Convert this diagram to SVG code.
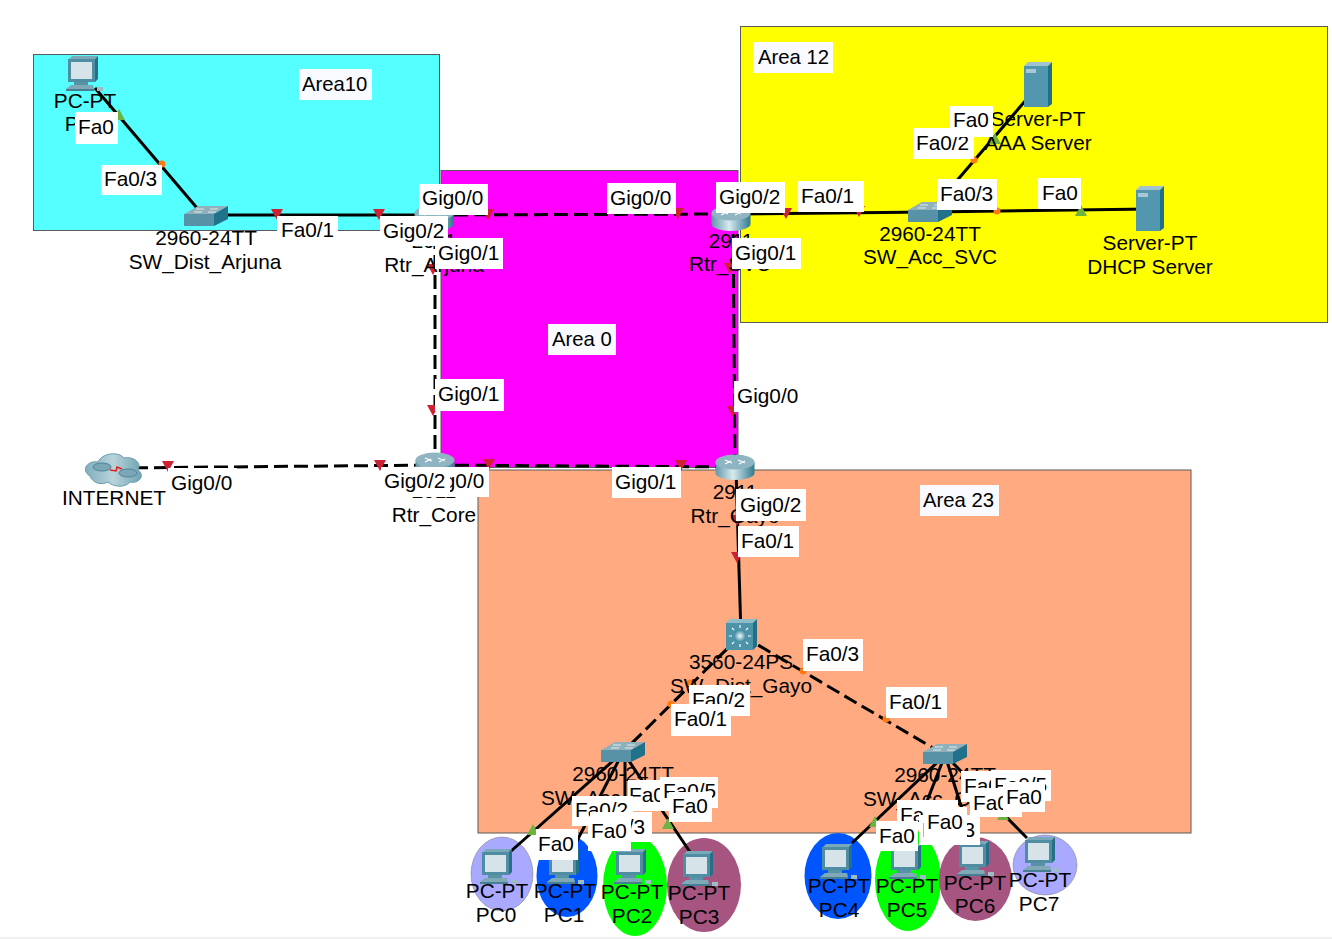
<svg xmlns="http://www.w3.org/2000/svg" xmlns:xlink="http://www.w3.org/1999/xlink" width="1332" height="939" viewBox="0 0 1332 939">
<style>
text{font-family:"Liberation Sans",Arial,sans-serif;font-size:20.800px;fill:#000}
.m{text-anchor:middle}
.area{stroke:#5a5a5a;stroke-width:1}
.box{fill:#fff}
.abox{fill:#f8faff}
#area-labels text{font-size:20.300px}
.solid{fill:none;stroke:#000;stroke-width:3}
.dash{fill:none;stroke:#000;stroke-width:3;stroke-dasharray:14 6}
.r{fill:#cc2233}.o{fill:#ff7a10}.g{fill:#6cb33f}
</style>
<defs>
<linearGradient id="rg" x1="0" x2="1" y1="0" y2="0"><stop offset="0" stop-color="#5f97a8"/><stop offset=".45" stop-color="#d8eaee"/><stop offset="1" stop-color="#2f7a90"/></linearGradient>
<linearGradient id="cg" x1="0" x2="1" y1="0" y2="0"><stop offset="0" stop-color="#7fb0bf"/><stop offset=".5" stop-color="#b9d3da"/><stop offset="1" stop-color="#6ea3b3"/></linearGradient>
<radialGradient id="mg"><stop offset="0" stop-color="#f4fbfd"/><stop offset="1" stop-color="#3f8aa1"/></radialGradient>
<polygon id="tri" points="-6,-6 6,-6 0,5"/>
<polygon id="tru" points="-6,5 6,5 0,-6"/>
<g id="router"><path d="M-19.500 -5V6A19.500 7 0 0 0 19.500 6V-5Z" fill="url(#rg)"/><ellipse cx="0" cy="-5" rx="19.500" ry="7.500" fill="#8fb5c2"/><path d="M-10 -7L-3 -4M-10 -3L-4 -6M3 -7L10 -4M4 -3L10 -6" stroke="#fff" stroke-width="1.200"/></g>
<g id="switch"><polygon points="-22,-2 -8,-10 22,-10 8,-2" fill="#8fb1bc"/><rect x="-22" y="-2" width="30" height="12" fill="#5792a6"/><polygon points="8,-2 22,-10 22,3 8,10" fill="#20718a"/><path d="M-10 -7H-2M4 -7H12M-12 -4H-4M2 -4H10" stroke="#dfeaee" stroke-width="1"/></g>
<g id="pc"><polygon points="-13,-15 13,-15 16,-18 -10,-18" fill="#79a9b8"/><rect x="-14" y="-15" width="27" height="23" fill="#4f8da3"/><polygon points="13,-15 16,-18 16,5 13,8" fill="#256f87"/><rect x="-11" y="-12" width="21" height="17" fill="#d6e4ea"/><rect x="-8" y="8" width="14" height="3" fill="#5792a6"/><polygon points="-16,15 -11,11 11,11 12,15" fill="#7fa9b7"/><rect x="-16" y="15" width="28" height="2" fill="#467f94"/><rect x="15" y="13" width="6" height="4" fill="#9fbcc6"/></g>
<g id="server"><rect x="0" y="4" width="24" height="41" fill="#5397ae"/><polygon points="0,4 4,0 28,0 24,4" fill="#9fc3cf"/><polygon points="24,4 28,0 28,42 24,45" fill="#1f7088"/><rect x="2" y="7" width="10" height="4" fill="#a8c8d3"/></g>
</defs>
<rect x="0" y="0" width="1332" height="939" fill="#fff"/>
<rect x="0" y="937" width="1332" height="2" fill="#f0f0f0"/>

<g id="areas">
<rect class="area" x="33.500" y="54.500" width="406" height="176" fill="#55ffff"/>
<rect class="area" x="441" y="170.500" width="297" height="297" fill="#ff00ff"/>
<rect class="area" x="740.500" y="26.500" width="587" height="296" fill="#ffff00"/>
<rect class="area" x="478" y="470" width="713" height="363" fill="#ffaa80"/>
<ellipse cx="502" cy="874" rx="31" ry="37" fill="#a9a9ff" stroke="#777" stroke-width=".5"/>
<ellipse cx="567" cy="876" rx="30.500" ry="41" fill="#0055ff"/>
<ellipse cx="635" cy="886" rx="32" ry="50" fill="#00ff00"/>
<ellipse cx="704" cy="885" rx="37" ry="47" fill="#a65480"/>
<ellipse cx="838" cy="876" rx="33.500" ry="43" fill="#0055ff"/>
<ellipse cx="908" cy="880" rx="33" ry="51" fill="#00ff00"/>
<ellipse cx="975.500" cy="879" rx="36.500" ry="42" fill="#a65480"/>
<ellipse cx="1045" cy="865" rx="32" ry="30" fill="#a9a9ff" stroke="#777" stroke-width=".5"/>
</g>

<g id="connectors">
<path class="solid" d="M95 88L197 208"/>
<path class="solid" d="M205 215L434 215"/>
<path class="dash" d="M434 215L731 214"/>
<path class="solid" d="M731 214L930 212L1150 209"/>
<path class="solid" d="M930 212L1038 86"/>
<path class="dash" d="M435 215V465"/>
<path class="dash" d="M733 214L735 467"/>
<path class="dash" d="M435 465L735 467"/>
<path class="dash" d="M114 468L435 465"/>
<path class="solid" d="M736 470L741 635"/>
<path class="dash" d="M741 635L623 752"/>
<path class="dash" d="M741 635L945 755"/>
<path class="solid" d="M623 752L510 852"/>
<path class="solid" d="M623 752L567 860"/>
<path class="solid" d="M625 752V850"/>
<path class="solid" d="M623 752L690 852"/>
<path class="solid" d="M945 755L852 843"/>
<path class="solid" d="M945 755L908 850"/>
<path class="solid" d="M945 755L975 850"/>
<path class="solid" d="M945 755L1027 838"/>
<use href="#tri" class="r" x="277" y="215"/><use href="#tri" class="r" x="379" y="215"/><use href="#tri" class="r" x="488" y="215"/><use href="#tri" class="r" x="678" y="214"/>
<use href="#tri" class="r" x="786" y="214"/><use href="#tri" class="r" x="859" y="212"/><use href="#tri" class="r" x="433" y="270"/><use href="#tri" class="r" x="730" y="269"/>
<use href="#tri" class="r" x="433" y="411"/><use href="#tri" class="r" x="733" y="412"/><use href="#tri" class="r" x="168" y="467"/><use href="#tri" class="r" x="380" y="466"/>
<use href="#tri" class="r" x="489" y="465"/><use href="#tri" class="r" x="681" y="466"/><use href="#tri" class="r" x="737" y="521"/><use href="#tri" class="r" x="737" y="558"/>
<circle class="o" cx="162" cy="164" r="3.500"/><circle class="o" cx="974" cy="160" r="3.500"/><circle class="o" cx="997" cy="211" r="3.500"/>
<circle class="o" cx="690" cy="683" r="3.500"/><circle class="o" cx="671" cy="704" r="3.500"/><circle class="o" cx="803" cy="671" r="3.500"/><circle class="o" cx="886" cy="719" r="3.500"/>
<use href="#tru" class="g" x="119" y="115"/><use href="#tru" class="g" x="995" y="139"/><use href="#tru" class="g" x="1081" y="211"/>
<use href="#tru" class="g" x="533" y="830"/><use href="#tru" class="g" x="668" y="824"/><use href="#tru" class="g" x="875" y="822"/><use href="#tru" class="g" x="1003" y="815"/>
</g>

<g id="node-pc-arjuna"><use href="#pc" x="82" y="74"/><text class="m" x="85" y="108">PC-PT</text><text class="m" x="85" y="131">PC8</text></g>
<g id="node-sw-dist-arjuna"><use href="#switch" x="206" y="216"/><text class="m" x="206" y="245">2960-24TT</text><text class="m" x="205" y="269">SW_Dist_Arjuna</text></g>
<g id="node-rtr-arjuna"><use href="#router" x="434" y="218"/><text class="m" x="434" y="248">2911</text><text class="m" x="434" y="272">Rtr_Arjuna</text></g>
<g id="node-rtr-svc"><use href="#router" x="731" y="218"/><text class="m" x="731" y="248">2911</text><text class="m" x="730" y="271">Rtr_SVC</text></g>
<g id="node-sw-acc-svc"><use href="#switch" x="930" y="212"/><text class="m" x="930" y="241">2960-24TT</text><text class="m" x="930" y="264">SW_Acc_SVC</text></g>
<g id="node-aaa"><use href="#server" x="1024" y="62"/><text class="m" x="1038" y="126">Server-PT</text><text class="m" x="1038" y="150">AAA Server</text></g>
<g id="node-dhcp"><use href="#server" x="1136" y="186"/><text class="m" x="1150" y="250">Server-PT</text><text class="m" x="1150" y="274">DHCP Server</text></g>
<g id="node-internet"><path d="M90 476C80 470 88 460 98 462C102 453 118 451 124 458C134 456 142 463 138 470C146 476 138 484 130 482C124 489 112 486 108 482C100 486 92 482 90 476Z" fill="url(#cg)" stroke="#6b9aaa"/><ellipse cx="102" cy="467" rx="9" ry="4" fill="#7aa6b5" stroke="#4f8398"/><ellipse cx="128" cy="473" rx="9" ry="4" fill="#7aa6b5" stroke="#4f8398"/><path d="M110 470L116 471L117 467L122 469" fill="none" stroke="#e81c1c" stroke-width="1.500"/><text class="m" x="114" y="505">INTERNET</text></g>
<g id="node-rtr-core"><use href="#router" x="435" y="465"/><text class="m" x="434" y="498">2911</text><text class="m" x="434" y="522">Rtr_Core</text></g>
<g id="node-rtr-gayo"><use href="#router" x="735" y="467"/><text class="m" x="735" y="499">2911</text><text class="m" x="735" y="523">Rtr_Gayo</text></g>
<g id="node-sw-dist-gayo"><polygon points="726,623 730,619 757,619 753,623" fill="#8fbccb"/><rect x="726" y="623" width="27" height="27" fill="#4d93a9"/><polygon points="753,623 757,619 757,646 753,650" fill="#1f7088"/><circle cx="740" cy="636" r="6" fill="url(#mg)"/><path d="M740 625V628M740 644V647M729 636H732M748 636H751M732 628L734 630M748 644L746 642M748 628L746 630M732 644L734 642" stroke="#fff" stroke-width="1.200"/><text class="m" x="741" y="669">3560-24PS</text><text class="m" x="741" y="693">SW_Dist_Gayo</text></g>
<g id="node-sw-acc-1"><use href="#switch" x="623" y="752"/><text class="m" x="623" y="781">2960-24TT</text><text class="m" x="623" y="805">SW_Acc_Gayo_1</text></g>
<g id="node-sw-acc-2"><use href="#switch" x="945" y="754"/><text class="m" x="945" y="782">2960-24TT</text><text class="m" x="945" y="806">SW_Acc_Gayo_2</text></g>
<g id="node-pc0"><use href="#pc" x="496" y="867"/><text class="m" x="497" y="898">PC-PT</text><text class="m" x="496" y="922">PC0</text></g>
<g id="node-pc1"><use href="#pc" x="563" y="867"/><text class="m" x="565" y="898">PC-PT</text><text class="m" x="564" y="922">PC1</text></g>
<g id="node-pc2"><use href="#pc" x="630" y="867"/><text class="m" x="632" y="899">PC-PT</text><text class="m" x="632" y="923">PC2</text></g>
<g id="node-pc3"><use href="#pc" x="697" y="869"/><text class="m" x="699" y="900">PC-PT</text><text class="m" x="699" y="924">PC3</text></g>
<g id="node-pc4"><use href="#pc" x="836" y="862"/><text class="m" x="839" y="893">PC-PT</text><text class="m" x="839" y="917">PC4</text></g>
<g id="node-pc5"><use href="#pc" x="905" y="862"/><text class="m" x="907" y="893">PC-PT</text><text class="m" x="907" y="917">PC5</text></g>
<g id="node-pc6"><use href="#pc" x="973" y="859"/><text class="m" x="975" y="890">PC-PT</text><text class="m" x="975" y="913">PC6</text></g>
<g id="node-pc7"><use href="#pc" x="1039" y="855"/><text class="m" x="1040" y="887">PC-PT</text><text class="m" x="1039" y="911">PC7</text></g>

<g id="area-labels">
<rect class="abox" x="299" y="69" width="73" height="31"/><text x="302" y="91">Area10</text>
<rect class="abox" x="753" y="42" width="80" height="31"/><text x="758" y="64">Area 12</text>
<rect class="abox" x="548" y="324" width="68" height="31"/><text x="552" y="346">Area 0</text>
<rect class="abox" x="920" y="485" width="79" height="31"/><text x="923" y="507">Area 23</text>
</g>

<g id="port-labels">
<rect class="box" x="75" y="112" width="43" height="32"/><text x="78" y="134">Fa0</text>
<rect class="box" x="101" y="165" width="61" height="30"/><text x="104" y="186">Fa0/3</text>
<rect class="box" x="277" y="216" width="61" height="30"/><text x="281" y="237">Fa0/1</text>
<rect class="box" x="380" y="216" width="68" height="30"/><text x="383" y="238">Gig0/2</text>
<rect class="box" x="419" y="184" width="69" height="31"/><text x="422" y="205">Gig0/0</text>
<rect class="box" x="435" y="238" width="68" height="31"/><text x="438" y="260">Gig0/1</text>
<rect class="box" x="607" y="183" width="69" height="31"/><text x="610" y="205">Gig0/0</text>
<rect class="box" x="716" y="182" width="69" height="31"/><text x="719" y="204">Gig0/2</text>
<rect class="box" x="798" y="181" width="66" height="31"/><text x="801" y="203">Fa0/1</text>
<rect class="box" x="913" y="128" width="61" height="31"/><text x="916" y="150">Fa0/2</text>
<rect class="box" x="950" y="106" width="43" height="31"/><text x="953" y="127">Fa0</text>
<rect class="box" x="937" y="179" width="60" height="31"/><text x="940" y="201">Fa0/3</text>
<rect class="box" x="1038" y="178" width="43" height="31"/><text x="1042" y="200">Fa0</text>
<rect class="box" x="732" y="238" width="69" height="31"/><text x="735" y="260">Gig0/1</text>
<rect class="box" x="435" y="379" width="69" height="32"/><text x="438" y="401">Gig0/1</text>
<rect class="box" x="734" y="381" width="68" height="31"/><text x="737" y="403">Gig0/0</text>
<rect class="box" x="168" y="468" width="69" height="30"/><text x="171" y="490">Gig0/0</text>
<rect class="box" x="420" y="467" width="69" height="30"/><text x="423" y="488">Gig0/0</text>
<rect class="box" x="381" y="467" width="69" height="30"/><text x="384" y="488">Gig0/2</text>
<rect class="box" x="612" y="467" width="69" height="31"/><text x="615" y="489">Gig0/1</text>
<rect class="box" x="736" y="489" width="70" height="32"/><text x="740" y="512">Gig0/2</text>
<rect class="box" x="738" y="526" width="61" height="31"/><text x="741" y="548">Fa0/1</text>
<rect class="box" x="803" y="639" width="60" height="32"/><text x="806" y="661">Fa0/3</text>
<rect class="box" x="886" y="687" width="61" height="31"/><text x="889" y="709">Fa0/1</text>
<rect class="box" x="689" y="685" width="61" height="31"/><text x="692" y="707">Fa0/2</text>
<rect class="box" x="671" y="704" width="60" height="32"/><text x="674" y="726">Fa0/1</text>
<rect class="box" x="628" y="780" width="61" height="31"/><text x="629" y="802">Fa0/4</text>
<rect class="box" x="660" y="777" width="58" height="31"/><text x="663" y="798">Fa0/5</text>
<rect class="box" x="669" y="792" width="43" height="30"/><text x="672" y="813">Fa0</text>
<rect class="box" x="572" y="796" width="61" height="30"/><text x="575" y="817">Fa0/2</text>
<rect class="box" x="590" y="812" width="62" height="30"/><text x="592" y="834">Fa0/3</text>
<rect class="box" x="588" y="820" width="43" height="31"/><text x="591" y="838">Fa0</text>
<rect class="box" x="536" y="829" width="42" height="31"/><text x="538" y="851">Fa0</text>
<rect class="box" x="961" y="771" width="61" height="31"/><text x="964" y="793">Fa0/4</text>
<rect class="box" x="991" y="770" width="60" height="31"/><text x="994" y="792">Fa0/5</text>
<rect class="box" x="970" y="788" width="52" height="29"/><text x="973" y="810">Fa0</text>
<rect class="box" x="1003" y="782" width="42" height="30"/><text x="1006" y="804">Fa0</text>
<rect class="box" x="897" y="800" width="61" height="30"/><text x="900" y="822">Fa0/2</text>
<rect class="box" x="919" y="815" width="61" height="30"/><text x="922" y="837">Fa0/3</text>
<rect class="box" x="924" y="807" width="43" height="31"/><text x="927" y="829">Fa0</text>
<rect class="box" x="876" y="821" width="42" height="30"/><text x="879" y="843">Fa0</text>
</g>
</svg>
